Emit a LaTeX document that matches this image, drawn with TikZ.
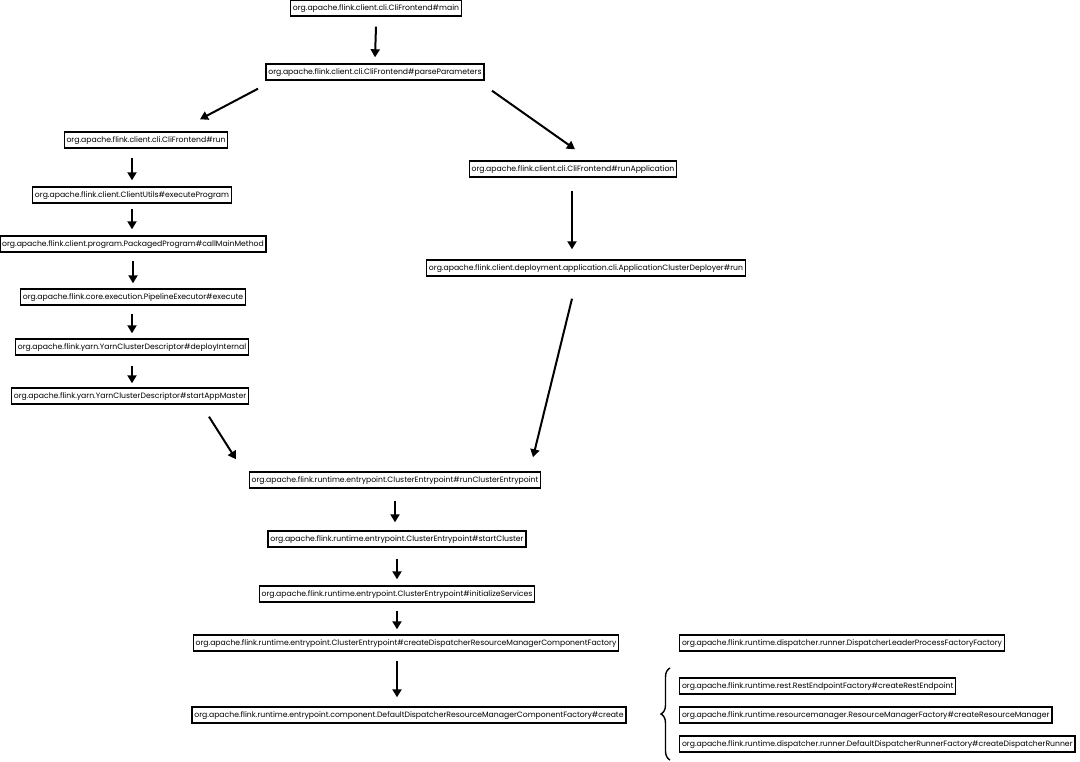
\documentclass[tikz,border=0pt]{standalone}
\usepackage{fontspec}
\setmainfont{Poppins}
\usetikzlibrary{arrows.meta,decorations.pathreplacing,calc}
\begin{document}
\begin{tikzpicture}[x=1pt,y=-1pt,
  box/.style={draw=black,line width=1.4pt,fill=white,inner xsep=2.3pt,inner ysep=0pt,minimum height=16pt,font=\fontsize{7.7}{8}\selectfont,text height=6pt,text depth=1.8pt},
  arr/.style={line width=2pt,-{Triangle[length=8pt,width=9pt]}}]
\useasboundingbox (0,0) rectangle (1080,762);
\node[box] (main) at (376,8) {org.apache.flink.client.cli.CliFrontend\#main};
\node[box] (parse) at (375,72) {org.apache.flink.client.cli.CliFrontend\#parseParameters};
\node[box] (run) at (146,140) {org.apache.flink.client.cli.CliFrontend\#run};
\node[box] (runapp) at (573,169) {org.apache.flink.client.cli.CliFrontend\#runApplication};
\node[box] (exec) at (132,195) {org.apache.flink.client.ClientUtils\#executeProgram};
\node[box] (call) at (133,244) {org.apache.flink.client.program.PackagedProgram\#callMainMethod};
\node[box] (pipe) at (133,297) {org.apache.flink.core.execution.PipelineExecutor\#execute};
\node[box] (deploy) at (132,347) {org.apache.flink.yarn.YarnClusterDescriptor\#deployInternal};
\node[box] (start) at (130,396) {org.apache.flink.yarn.YarnClusterDescriptor\#startAppMaster};
\node[box] (acd) at (586,268) {org.apache.flink.client.deployment.application.cli.ApplicationClusterDeployer\#run};
\node[box] (rce) at (395,480) {org.apache.flink.runtime.entrypoint.ClusterEntrypoint\#runClusterEntrypoint};
\node[box] (sc) at (397,539) {org.apache.flink.runtime.entrypoint.ClusterEntrypoint\#startCluster};
\node[box] (init) at (397,594) {org.apache.flink.runtime.entrypoint.ClusterEntrypoint\#initializeServices};
\node[box] (cdrm) at (406,643) {org.apache.flink.runtime.entrypoint.ClusterEntrypoint\#createDispatcherResourceManagerComponentFactory};
\node[box] (ddrm) at (409,715) {org.apache.flink.runtime.entrypoint.component.DefaultDispatcherResourceManagerComponentFactory\#create};
\node[box,anchor=west] (dlp) at (679,643) {org.apache.flink.runtime.dispatcher.runner.DispatcherLeaderProcessFactoryFactory};
\node[box,anchor=west] (rest) at (679,686) {org.apache.flink.runtime.rest.RestEndpointFactory\#createRestEndpoint};
\node[box,anchor=west] (rmf) at (679,715) {org.apache.flink.runtime.resourcemanager.ResourceManagerFactory\#createResourceManager};
\node[box,anchor=west] (ddrf) at (679,744) {org.apache.flink.runtime.dispatcher.runner.DefaultDispatcherRunnerFactory\#createDispatcherRunner};
\draw[arr] ($(main.south)+(0,10)$) -- ($(parse.north)+(0,-6)$);
\draw[arr] ($(parse.south)+(-117,8)$) -- ($(run.north)+(54,-12)$);
\draw[arr] ($(parse.south)+(117,10)$) -- ($(runapp.north)+(2,-11)$);
\draw[arr] ($(run.south -| exec.north)+(0,9)$) -- ($(exec.north)+(0,-6)$);
\draw[arr] ($(exec.south)+(0,5)$) -- ($(call.north -| exec.south)+(0,-6)$);
\draw[arr] ($(call.south -| pipe.north)+(0,8)$) -- ($(pipe.north)+(0,-5)$);
\draw[arr] ($(pipe.south -| deploy.north)+(0,8)$) -- ($(deploy.north)+(0,-5)$);
\draw[arr] ($(deploy.south)+(0,10)$) -- ($(start.north -| deploy.south)+(0,-4)$);
\draw[arr] ($(start.south)+(79,12)$) -- ($(rce.north)+(-159,-12)$);
\draw[arr] ($(runapp.south)+(-1,13)$) -- ($(acd.north)+(-14,-10)$);
\draw[arr] ($(acd.south)+(-14,22)$) -- ($(rce.north)+(138,-14)$);
\draw[arr] ($(rce.south)+(0,12)$) -- ($(sc.north -| rce.south)+(0,-8)$);
\draw[arr] ($(sc.south)+(0,11)$) -- ($(init.north)+(0,-6)$);
\draw[arr] ($(init.south)+(0,8)$) -- ($(cdrm.north -| init.south)+(0,-5)$);
\draw[arr] ($(cdrm.south)+(-9,9)$) -- ($(ddrm.north)+(-12,-9)$);
\coordinate (bb) at (670,760);
\coordinate (bt) at (670,668);
\draw[line width=1.4pt,decorate,decoration={brace,amplitude=9pt}] (bb) -- (bt);
\end{tikzpicture}
\end{document}
